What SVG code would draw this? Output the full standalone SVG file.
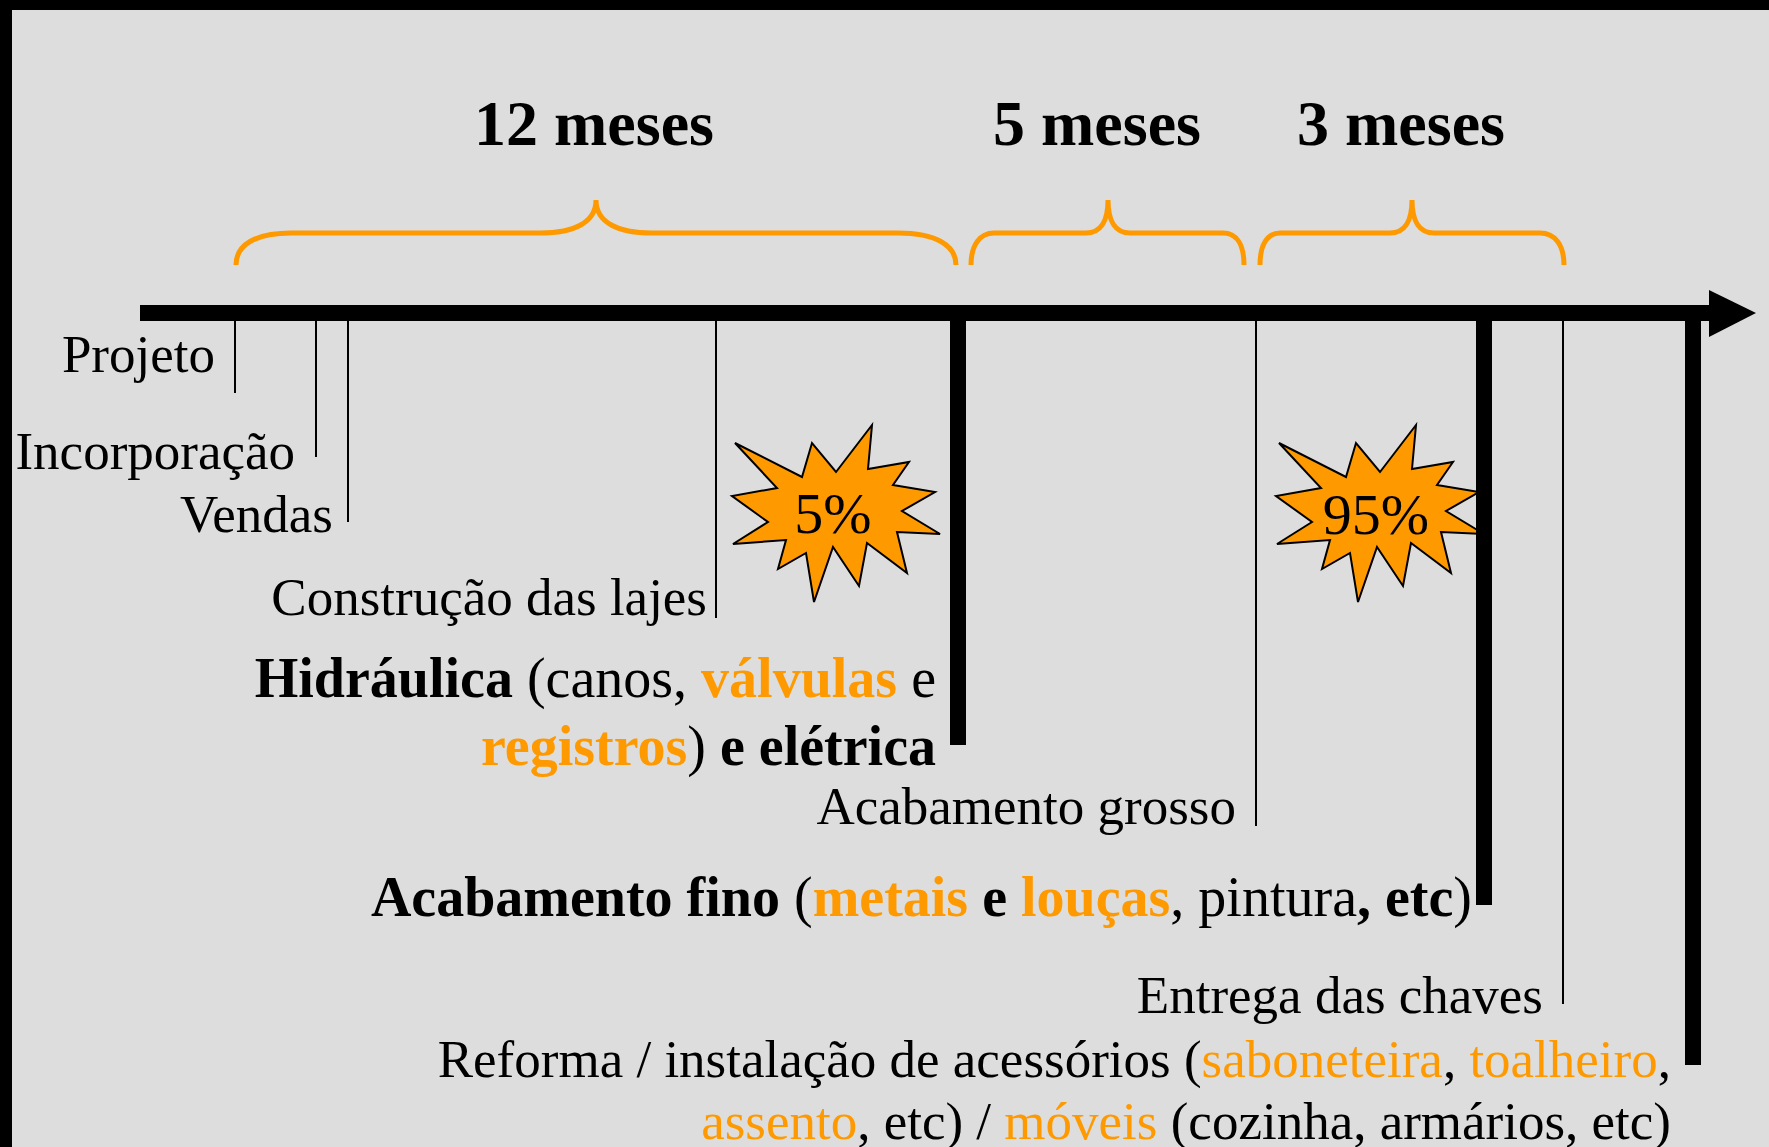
<svg xmlns="http://www.w3.org/2000/svg" width="1769" height="1147" viewBox="0 0 1769 1147">
<defs>
<style>
.t{font-family:"Liberation Serif","Times New Roman",serif;font-size:53px;fill:#000}
.b{font-family:"Liberation Serif","Times New Roman",serif;font-size:56px;fill:#000}
.h{font-family:"Liberation Serif","Times New Roman",serif;font-size:64px;font-weight:bold;fill:#000}
.bold{font-weight:bold}
.o{fill:#FF9900}
.brace{fill:none;stroke:#FF9900;stroke-width:5}
.thin{stroke:#000;stroke-width:2}
.star{fill:#FF9900;stroke:#000;stroke-width:2;stroke-linejoin:miter}
.pct{font-family:"Liberation Serif","Times New Roman",serif;font-size:58px;fill:#000;text-anchor:middle}
</style>
<polygon id="starShape" points="735,443 802,477 812,443 836,472 872,425 868,469 909,462 893,485 935,492 902,511 940,534 897,532 907,573 867,543 859,586 833,547 814,602 806,553 778,569 786,540 733,544 768,522 732,496 777,488"/>
</defs>
<rect x="0" y="0" width="1769" height="1147" fill="#000"/>
<rect x="12" y="10" width="1757" height="1137" fill="#DDDDDD"/>

<g id="headings">
<text class="h" x="474" y="145">12 meses</text>
<text class="h" x="993" y="145">5 meses</text>
<text class="h" x="1297" y="145">3 meses</text>
</g>

<g id="braces">
<path class="brace" d="M236,265 C236,245 255,233 291,233 L540,233 C575,233 596,222 596,200 C596,222 617,233 652,233 L898,233 C935,233 956,245 956,265"/>
<path class="brace" d="M971,265 C971,245 980,233 994,233 L1086,233 C1100,233 1108,222 1108,200 C1108,222 1116,233 1130,233 L1223,233 C1237,233 1244,245 1244,265"/>
<path class="brace" d="M1260,265 C1260,245 1267,233 1280,233 L1390,233 C1404,233 1412,222 1412,200 C1412,222 1420,233 1434,233 L1540,233 C1555,233 1564,245 1564,265"/>
</g>

<g id="star-5">
<use href="#starShape" class="star"/>
<text class="pct" x="833" y="533">5%</text>
</g>
<g id="star-95">
<use href="#starShape" class="star" transform="translate(544,0)"/>
<text class="pct" x="1376" y="534">95%</text>
</g>

<g id="connectors">
<rect x="140" y="305" width="1570" height="16" fill="#000"/>
<polygon points="1709,290 1756,313 1709,337" fill="#000"/>
<line class="thin" x1="235" y1="320" x2="235" y2="393"/>
<line class="thin" x1="316" y1="320" x2="316" y2="457"/>
<line class="thin" x1="348" y1="320" x2="348" y2="522"/>
<line class="thin" x1="716" y1="320" x2="716" y2="618"/>
<line class="thin" x1="1256" y1="320" x2="1256" y2="826"/>
<line class="thin" x1="1563" y1="320" x2="1563" y2="1004"/>
<rect x="950" y="313" width="16" height="432" fill="#000"/>
<rect x="1476" y="313" width="16" height="592" fill="#000"/>
<rect x="1685" y="313" width="16" height="752" fill="#000"/>
</g>

<g id="label-projeto"><text class="t" x="215" y="372" text-anchor="end">Projeto</text></g>
<g id="label-incorporacao"><text class="t" x="295" y="469" text-anchor="end">Incorporação</text></g>
<g id="label-vendas"><text class="t" x="333" y="532" text-anchor="end">Vendas</text></g>
<g id="label-construcao"><text class="t" x="707" y="615" text-anchor="end">Construção das lajes</text></g>
<g id="label-hidraulica">
<text class="b" x="936" y="697" text-anchor="end"><tspan class="bold">Hidráulica</tspan> (canos, <tspan class="bold o">válvulas</tspan> e</text>
<text class="b" x="936" y="765" text-anchor="end"><tspan class="bold o">registros</tspan>)<tspan class="bold"> e elétrica</tspan></text>
</g>
<g id="label-acab-grosso"><text class="t" x="1236" y="824" text-anchor="end">Acabamento grosso</text></g>
<g id="label-acab-fino"><text class="b" x="1472" y="916" text-anchor="end"><tspan class="bold">Acabamento fino </tspan>(<tspan class="bold o">metais</tspan><tspan class="bold"> e </tspan><tspan class="bold o">louças</tspan>, pintura<tspan class="bold">, etc</tspan>)</text></g>
<g id="label-entrega"><text class="t" x="1543" y="1013" text-anchor="end">Entrega das chaves</text></g>
<g id="label-reforma">
<text class="t" x="1671" y="1077" text-anchor="end">Reforma / instalação de acessórios (<tspan class="o">saboneteira</tspan>, <tspan class="o">toalheiro</tspan>,</text>
<text class="t" x="1671" y="1139" text-anchor="end"><tspan class="o">assento</tspan>, etc) / <tspan class="o">móveis</tspan> (cozinha, armários, etc)</text>
</g>
</svg>
